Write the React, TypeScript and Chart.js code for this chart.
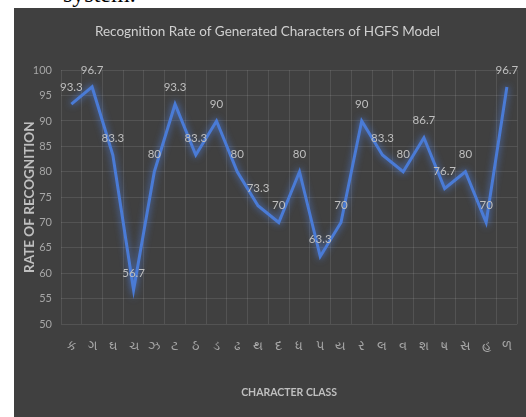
import React, { useEffect, useRef } from "react";
import { Chart, registerables } from "chart.js";

Chart.register(...registerables);

const categories = ["ક", "ગ", "ઘ", "ચ", "ઝ", "ટ", "ઠ", "ડ", "ઢ", "થ", "દ", "ધ", "પ", "ય", "ર", "લ", "વ", "શ", "ષ", "સ", "હ", "ળ"];
const rates = [93.3, 96.7, 83.3, 56.7, 80, 93.3, 83.3, 90, 80, 73.3, 70, 80, 63.3, 70, 90, 83.3, 80, 86.7, 76.7, 80, 70, 96.7];
const chartTitle = "Recognition Rate of Generated Characters of HGFS Model";
const xTitle = "CHARACTER CLASS";
const yTitle = "RATE OF RECOGNITION";

const FONT = "Lato, 'Open Sans', sans-serif";

const glowPlugin = {
  id: "glow",
  beforeDatasetDraw(chart: any) {
    const ctx = chart.ctx;
    ctx.save();
    ctx.shadowColor = "rgba(80,130,230,0.9)";
    ctx.shadowBlur = 7;
  },
  afterDatasetDraw(chart: any) {
    chart.ctx.restore();
  },
};

const labelPlugin = {
  id: "valueLabels",
  afterDatasetsDraw(chart: any) {
    const ctx = chart.ctx;
    const meta = chart.getDatasetMeta(0);
    ctx.save();
    ctx.font = `11.5px ${FONT}`;
    ctx.fillStyle = "#bfbfbf";
    ctx.textAlign = "center";
    ctx.textBaseline = "middle";
    meta.data.forEach((pt: any, i: number) => {
      ctx.fillText(String(rates[i]), pt.x, pt.y - 17);
    });
    ctx.restore();
  },
};

export default function App() {
  const ref = useRef<HTMLCanvasElement>(null);
  useEffect(() => {
    if (!ref.current) return;
    const chart = new Chart(ref.current, {
      type: "line",
      data: {
        labels: categories,
        datasets: [
          {
            data: rates,
            borderColor: "#4a7bd6",
            borderWidth: 3,
            pointRadius: 0,
            tension: 0,
            fill: false,
          },
        ],
      },
      options: {
        responsive: false,
        animation: false,
        layout: { padding: { left: 0, right: 5, top: 0, bottom: 0 } },
        plugins: {
          legend: { display: false },
          tooltip: { enabled: false },
          title: {
            display: true,
            text: chartTitle,
            color: "#d0d0d0",
            font: { family: FONT, size: 13.5, weight: "normal" },
            padding: { top: 16, bottom: 30 },
          },
        },
        scales: {
          x: {
            offset: true,
            afterFit(scale: any) {
              scale.height = 93;
            },
            grid: { offset: true, color: "rgba(255,255,255,0.1)", drawTicks: false },
            border: { display: false },
            ticks: { color: "#a6a6a6", font: { family: FONT, size: 13 }, padding: 14, maxRotation: 0, autoSkip: false },
            title: {
              display: true,
              text: xTitle,
              color: "#bfbfbf",
              font: { family: FONT, size: 10.5, weight: "bold" },
              padding: { top: 0, bottom: 18 },
            },
          },
          y: {
            min: 50,
            max: 100,
            afterFit(scale: any) {
              scale.width = 47;
            },
            grid: { color: "rgba(255,255,255,0.1)", drawTicks: false },
            border: { display: false },
            ticks: { stepSize: 5, color: "#a6a6a6", font: { family: FONT, size: 11 }, padding: 9 },
            title: {
              display: true,
              text: yTitle,
              color: "#bfbfbf",
              font: { family: FONT, size: 13.5, weight: "bold" },
              padding: { top: 8, bottom: 0 },
            },
          },
        },
      },
      plugins: [glowPlugin, labelPlugin],
    });
    return () => chart.destroy();
  }, []);

  return (
    <div style={{ position: "absolute", left: 0, top: 0, width: 526, height: 417, background: "#fff", overflow: "hidden" }}>
      <div style={{ position: "absolute", left: 63, top: -20, fontFamily: "'Liberation Serif', serif", fontSize: 24, lineHeight: "28px", color: "#000" }}>system.</div>
      <div style={{ position: "absolute", left: 14, top: 8, width: 512, height: 409, background: "#404040" }}>
        <canvas ref={ref} width={512} height={409} style={{ display: "block" }} />
      </div>
    </div>
  );
}
